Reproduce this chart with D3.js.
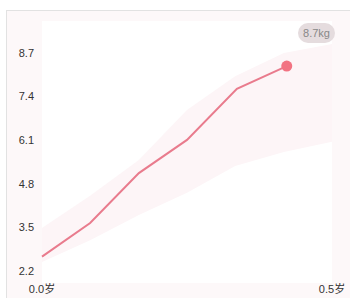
<!DOCTYPE html>
<html>
<head>
<meta charset="utf-8">
<script src="https://cdn.jsdelivr.net/npm/d3@7"></script>
<style>
  body { margin: 0; background: #fff; }
  svg { display: block; font-family: "Liberation Sans", "Noto Sans CJK SC", sans-serif; }
</style>
</head>
<body>
<div id="chart"></div>
<script>
// weight record (age in years, kg)
var ages    = [0, 0.083, 0.167, 0.25, 0.336, 0.422]
var weights = [2.63, 3.63, 5.12, 6.11, 7.63, 8.31]

// reference band (standard range)
var bandAges  = [0, 0.083, 0.167, 0.25, 0.333, 0.417, 0.5]
var bandUpper = [3.48, 4.44, 5.51, 7.0, 8.01, 8.7, 8.97]
var bandLower = [2.47, 3.12, 3.87, 4.53, 5.33, 5.75, 6.05]

var yTicks = [2.2, 3.5, 4.8, 6.1, 7.4, 8.7]
var xTicks = [0, 0.5]
var lastLabel = "8.7kg"

var width = 350, height = 298

var svg = d3.select("#chart")
  .append("svg")
    .attr("width", width)
    .attr("height", height)

// panel
svg.append("rect")
  .attr("x", 6.5).attr("y", 10.5)
  .attr("width", width).attr("height", height)
  .attr("fill", "#fdf8f9")
  .attr("stroke", "#e2e2e2")

var plot = {left: 42, right: 332, top: 21, bottom: 283}

svg.append("rect")
  .attr("x", plot.left).attr("y", plot.top)
  .attr("width", plot.right - plot.left)
  .attr("height", plot.bottom - plot.top)
  .attr("fill", "#fff")

var x = d3.scaleLinear()
  .domain([0, 0.5])
  .range([plot.left, plot.right])

var y = d3.scaleLinear()
  .domain([1.872, 9.654])
  .range([282, 21])

// band
var band = d3.area()
  .x(function(d, i) { return x(bandAges[i]) })
  .y0(function(d, i) { return y(bandLower[i]) })
  .y1(function(d, i) { return y(bandUpper[i]) })

svg.append("path")
  .attr("d", band(bandAges))
  .attr("fill", "#fdf5f7")

// y labels
svg.append("g")
  .selectAll("text")
  .data(yTicks)
  .enter()
  .append("text")
    .attr("x", 34)
    .attr("y", function(d) { return y(d) })
    .attr("dy", "0.35em")
    .attr("text-anchor", "end")
    .attr("font-size", 11)
    .attr("fill", "#333")
    .text(function(d) { return d.toFixed(1) })

// x labels
svg.append("g")
  .selectAll("text")
  .data(xTicks)
  .enter()
  .append("text")
    .attr("x", function(d) { return x(d) })
    .attr("y", 293)
    .attr("text-anchor", "middle")
    .attr("font-size", 11)
    .attr("fill", "#333")
    .text(function(d) { return d.toFixed(1) + "岁" })

// weight line
var line = d3.line()
  .x(function(d, i) { return x(ages[i]) })
  .y(function(d) { return y(d) })

svg.append("path")
  .attr("d", line(weights))
  .attr("fill", "none")
  .attr("stroke", "#e97b8d")
  .attr("stroke-width", 2)

var n = weights.length - 1
svg.append("circle")
  .attr("cx", x(ages[n]))
  .attr("cy", y(weights[n]))
  .attr("r", 5.5)
  .attr("fill", "#f27382")

// value bubble
var bubble = svg.append("g").attr("transform", "translate(316.5,33)")
bubble.append("rect")
  .attr("x", -18.5).attr("y", -10)
  .attr("width", 37).attr("height", 20)
  .attr("rx", 10)
  .attr("fill", "#e5dcde")
bubble.append("text")
  .attr("text-anchor", "middle")
  .attr("dy", "0.35em")
  .attr("font-size", 11)
  .attr("fill", "#888")
  .text(lastLabel)
</script>
</body>
</html>
